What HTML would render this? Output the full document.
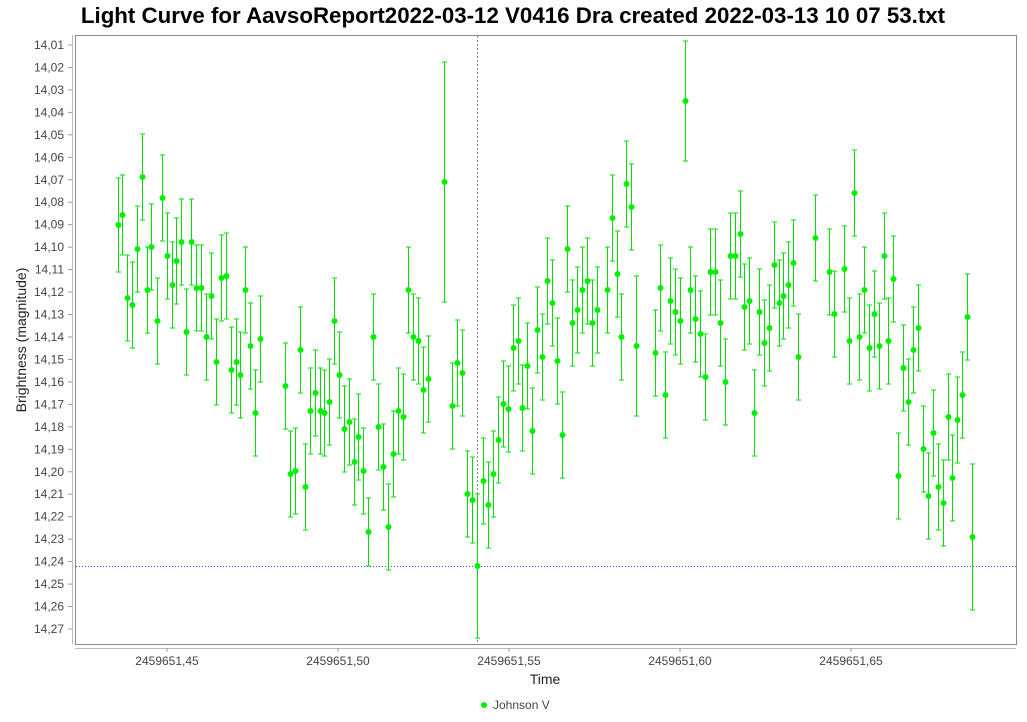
<!DOCTYPE html>
<html><head><meta charset="utf-8"><style>
body{margin:0;background:#fff;width:1027px;height:717px;overflow:hidden;font-family:"Liberation Sans",sans-serif}
</style></head><body>
<svg id="s" width="1027" height="717" xmlns="http://www.w3.org/2000/svg" font-family="Liberation Sans, sans-serif">
<text x="513" y="23" text-anchor="middle" font-size="22.3" font-weight="bold">Light Curve for AavsoReport2022-03-12 V0416 Dra created 2022-03-13 10 07 53.txt</text>
<rect x="75.5" y="35.5" width="941" height="609" fill="#fff" stroke="#888"/>
<line x1="72.5" y1="35" x2="72.5" y2="644" stroke="#bbb"/>
<line x1="75" y1="648.5" x2="1016" y2="648.5" stroke="#bbb"/>
<g id="yt" font-size="12" fill="#444" text-anchor="end"></g>
<g id="xt" font-size="12" fill="#444" text-anchor="middle"></g>
<line x1="477.5" y1="36" x2="477.5" y2="644" stroke="#888" stroke-dasharray="2,2"/>
<line x1="76" y1="566.5" x2="1016" y2="566.5" stroke="#3050ff" stroke-dasharray="1,2"/>
<g id="d" stroke="#00e000" fill="#00f000"></g>
<text x="545" y="684" text-anchor="middle" font-size="14" fill="#222">Time</text>
<text transform="translate(26,340) rotate(-90)" text-anchor="middle" font-size="14" fill="#222">Brightness (magnitude)</text>
<circle cx="484" cy="705" r="3" fill="#00f000"/>
<text x="493" y="709" font-size="12" fill="#444">Johnson V</text>
</svg>
<script>
var ns="http://www.w3.org/2000/svg";
function el(p,t,a,txt){var e=document.createElementNS(ns,t);for(var k in a)e.setAttribute(k,a[k]);if(txt)e.textContent=txt;document.getElementById(p).appendChild(e);}
for(var i=1;i<=27;i++){var y=45+(i-1)*584/26;el("yt","text",{x:64,y:y+4},"14,"+(i<10?"0":"")+i);el("yt","line",{x1:68,y1:y,x2:72,y2:y,stroke:"#999"});}
var lb=["45","50","55","60","65"];for(var j=0;j<5;j++){var x=167+j*171;el("xt","text",{x:x,y:665},"2459651,"+lb[j]);el("xt","line",{x1:x,y1:648,x2:x,y2:652,stroke:"#999"});}
var P=[[118,225,47],[122,215,40],[127,298],[132,305],[137,249],[142,177],[147,290],[151,247],[157,321],[162,198],[167,256],[172,285],[176,261],[181,242],[186,332],[191,242],[196,288],[201,288],[206,337],[211,296],[216,362],[221,278],[226,276],[231,370],[236,362],[240,375],[245,290],[250,346],[255,413],[260,339],
[285,386],[290,474],[295,471],[300,350],[305,487],[310,411],[315,393],[320,411],[324,413],[329,402],[334,321],[339,375],[344,429],[349,422],[354,462],[358,437],[363,471],[368,532,34],[373,337],[378,427],[383,467],[388,527],[393,454],[398,411],[403,417],[408,290],[413,337],[418,341],[423,390],[428,379],
[444,182,120],[452,406],[457,363],[462,373],[467,494],[472,500],[477,566,72],[483,481],[488,505],[493,474],[498,440],[503,404],[508,409],[513,348],[518,341],[522,408],[527,366],[532,431],[537,330],[542,357],[547,281],[552,303],[557,361],[562,435],[567,249],[572,323],[577,310],[582,290],[587,281],[592,323],[597,310],[607,290],[612,218],[617,274],[621,337],[626,184],[631,207],[636,346,70],
[655,353],[660,288],[665,395],[670,301],[675,312],[680,321],[685,101,60],[690,290],[695,319],[700,334],[705,377],[710,272],[715,272],[720,323],[725,382],[730,256],[735,256],[740,234],[744,307],[749,301],[754,413],[759,312],[764,343],[769,328],[774,265],[779,303],[783,296],[788,285],[793,263],[798,357],
[815,238],[829,272],[834,314],[844,269],[849,341],[854,193],[859,337],[864,290],[869,348],[874,314],[879,346],[884,256],[888,341],[893,279],[898,476],[903,368],[908,402],[913,350],[918,328],[923,449],[928,496],[933,433],[938,487],[943,503],[948,417],[952,478],[957,420],[962,395],[967,317],[972,537,73]];
P.forEach(function(p){var h=p[2]||43;el("d","line",{x1:p[0]+.5,y1:p[1]-h,x2:p[0]+.5,y2:p[1]+h});el("d","line",{x1:p[0]-2,y1:p[1]-h,x2:p[0]+3,y2:p[1]-h});el("d","line",{x1:p[0]-2,y1:p[1]+h,x2:p[0]+3,y2:p[1]+h});el("d","circle",{cx:p[0]+.5,cy:p[1],r:3,stroke:"none"});});
</script>
</body></html>
